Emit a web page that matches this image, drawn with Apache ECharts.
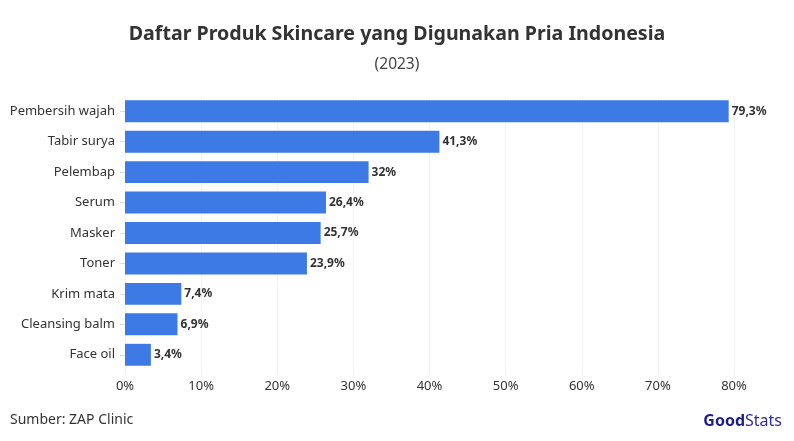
<!DOCTYPE html>
<html><head><meta charset="utf-8">
<script src="https://cdn.jsdelivr.net/npm/echarts@6/dist/echarts.min.js"></script>
<style>html,body{margin:0;padding:0;background:#fff}#c{width:794px;height:441px}</style>
</head><body><div id="c"></div>
<script>
const categories = ["Pembersih wajah","Tabir surya","Pelembap","Serum","Masker","Toner","Krim mata","Cleansing balm","Face oil"];
const values = [79.3,41.3,32,26.4,25.7,23.9,7.4,6.9,3.4];
const xTicks = [0,10,20,30,40,50,60,70,80];

const chart = echarts.init(document.getElementById('c'));
const fmt = v => String(v).replace('.', ',') + '%';
chart.setOption({
  animation:false,
  title:[
    {text:'Daftar Produk Skincare yang Digunakan Pria Indonesia',left:'center',top:19,
     textStyle:{fontFamily:'Noto Sans',fontWeight:'bold',fontSize:19.6,color:'#333'}},
    {text:'(2023)',left:'center',top:52,textStyle:{fontFamily:'Noto Sans',fontWeight:'normal',fontSize:15.5,color:'#444'}}
  ],
  grid:{left:125,right:60,top:96,bottom:71,containLabel:false},
  xAxis:{type:'value',min:0,max:80,interval:10,
    axisLabel:{formatter:v=>v+'%',fontFamily:'Noto Sans',fontSize:13,color:'#333',margin:10},
    splitLine:{show:true,lineStyle:{color:'#f3f3f3'}},
    axisLine:{show:false},axisTick:{show:true,length:4,lineStyle:{color:'#f0f0f0'}}},
  yAxis:{type:'category',data:categories,inverse:true,
    axisLabel:{fontFamily:'Noto Sans',fontSize:13,color:'#333',margin:10},
    axisLine:{show:true,lineStyle:{color:'#f0f0f0'}},
    axisTick:{show:true,length:5,alignWithLabel:true,lineStyle:{color:'#ddd'}}},
  series:[{type:'bar',data:values,barCategoryGap:'28%',
    itemStyle:{color:'#3d7ae5'},
    label:{show:true,position:'right',distance:3,formatter:p=>fmt(p.value),
      fontFamily:'Noto Sans',fontWeight:'bold',fontSize:12,color:'#333'}}],
  graphic:[
    {type:'text',left:10,top:413,style:{text:'Sumber: ZAP Clinic',fontFamily:'Noto Sans',fontSize:14,fill:'#333'}},
    {type:'text',right:12,top:413,style:{rich:{
      a:{fontFamily:'Noto Sans',fontWeight:'bold',fontSize:16,fill:'#1c1c8f'},
      b:{fontFamily:'Noto Sans',fontSize:16,fill:'#2d2d9c'}},
      text:'{a|Good}{b|Stats}'}}
  ]
});
</script></body></html>
